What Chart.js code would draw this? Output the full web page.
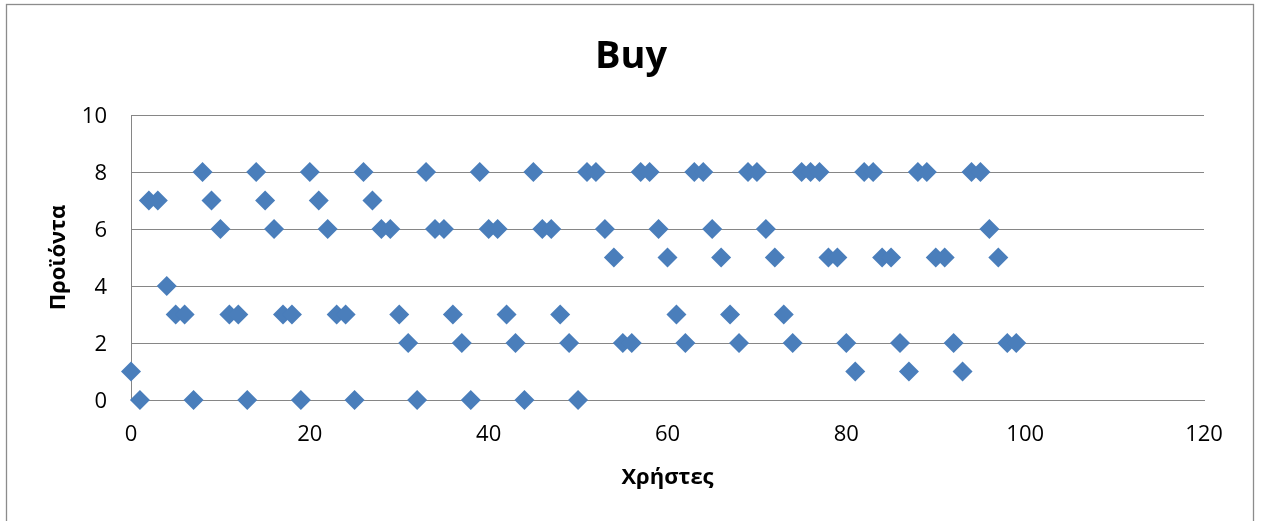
<!DOCTYPE html>
<html>
<head>
<meta charset="utf-8">
<script src="https://cdn.jsdelivr.net/npm/chart.js@4/dist/chart.umd.min.js"></script>
<style>
  html, body { margin: 0; padding: 0; background: #ffffff; }
  #wrap { position: relative; width: 1262px; height: 521px; }
</style>
</head>
<body>
<div id="wrap"><canvas id="c" width="1262" height="521"></canvas></div>
<script>
const chartTitle = "Buy";
const xAxisTitle = "Χρήστες";
const yAxisTitle = "Προϊόντα";

const users = [
  0, 1, 2, 3, 4, 5, 6, 7, 8, 9,
  10, 11, 12, 13, 14, 15, 16, 17, 18, 19,
  20, 21, 22, 23, 24, 25, 26, 27, 28, 29,
  30, 31, 32, 33, 34, 35, 36, 37, 38, 39,
  40, 41, 42, 43, 44, 45, 46, 47, 48, 49,
  50, 51, 52, 53, 54, 55, 56, 57, 58, 59,
  60, 61, 62, 63, 64, 65, 66, 67, 68, 69,
  70, 71, 72, 73, 74, 75, 76, 77, 78, 79,
  80, 81, 82, 83, 84, 85, 86, 87, 88, 89,
  90, 91, 92, 93, 94, 95, 96, 97, 98, 99
];
const products = [
  1, 0, 7, 7, 4, 3, 3, 0, 8, 7,
  6, 3, 3, 0, 8, 7, 6, 3, 3, 0,
  8, 7, 6, 3, 3, 0, 8, 7, 6, 6,
  3, 2, 0, 8, 6, 6, 3, 2, 0, 8,
  6, 6, 3, 2, 0, 8, 6, 6, 3, 2,
  0, 8, 8, 6, 5, 2, 2, 8, 8, 6,
  5, 3, 2, 8, 8, 6, 5, 3, 2, 8,
  8, 6, 5, 3, 2, 8, 8, 8, 5, 5,
  2, 1, 8, 8, 5, 5, 2, 1, 8, 8,
  5, 5, 2, 1, 8, 8, 6, 5, 2, 2
];
const xTicks = [0, 20, 40, 60, 80, 100, 120];
const yTicks = [0, 2, 4, 6, 8, 10];

const points = users.map((u, i) => ({ x: u, y: products[i] }));

const FONT = "'Open Sans', 'DejaVu Sans', sans-serif";
const GRID = '#868686';

const outerBorder = {
  id: 'outerBorder',
  beforeDraw(chart) {
    const ctx = chart.ctx;
    ctx.save();
    ctx.fillStyle = '#ffffff';
    ctx.fillRect(0, 0, chart.width, chart.height);
    ctx.strokeStyle = '#8c8c8c';
    ctx.lineWidth = 1.3;
    ctx.strokeRect(6.5, 4.5, 1247, 530);
    ctx.restore();
  }
};

new Chart(document.getElementById('c'), {
  type: 'scatter',
  data: {
    datasets: [{
      label: yAxisTitle,
      data: points,
      pointStyle: 'rectRot',
      pointRadius: 10,
      pointHoverRadius: 10,
      pointBackgroundColor: '#4A7EBB',
      pointBorderColor: '#4A7EBB',
      pointBorderWidth: 0,
      clip: false
    }]
  },
  options: {
    responsive: false,
    animation: false,
    events: [],
    layout: { padding: 0 },
    plugins: {
      legend: { display: false },
      tooltip: { enabled: false },
      title: {
        display: true,
        text: chartTitle,
        color: '#000000',
        font: { family: FONT, size: 38, weight: 'bold' },
        padding: { top: 33.9, bottom: 35.5 }
      }
    },
    scales: {
      x: {
        type: 'linear',
        position: 'bottom',
        min: 0,
        max: 120,
        afterBuildTicks: (s) => { s.ticks = xTicks.map(v => ({ value: v })); },
        afterFit: (s) => { s.height = 121; },
        ticks: {
          color: '#000000',
          font: { family: FONT, size: 22 },
          padding: 22,
          maxRotation: 0
        },
        grid: { display: false, drawTicks: false },
        border: { display: true, color: GRID, width: 1 },
        title: {
          display: true,
          text: xAxisTitle,
          color: '#000000',
          font: { family: FONT, size: 22, weight: 'bold' },
          padding: { top: 0, bottom: 29.8 }
        }
      },
      y: {
        type: 'linear',
        position: 'left',
        min: 0,
        max: 10,
        afterBuildTicks: (s) => { s.ticks = yTicks.map(v => ({ value: v })); },
        afterFit: (s) => { s.width = 131; },
        ticks: {
          color: '#000000',
          font: { family: FONT, size: 22 },
          padding: 24,
          labelOffset: 1.5
        },
        grid: { display: true, color: GRID, lineWidth: 1, drawTicks: false },
        border: { display: true, color: GRID, width: 1 },
        title: {
          display: true,
          text: yAxisTitle,
          color: '#000000',
          font: { family: FONT, size: 22, weight: 'bold' },
          padding: { top: 45.5, bottom: 0 }
        }
      },
      spacer: {
        type: 'linear',
        position: 'right',
        display: true,
        afterFit: (s) => { s.width = 58; },
        ticks: { display: false },
        grid: { display: false, drawTicks: false },
        border: { display: false }
      }
    }
  },
  plugins: [outerBorder]
});
</script>
</body>
</html>
